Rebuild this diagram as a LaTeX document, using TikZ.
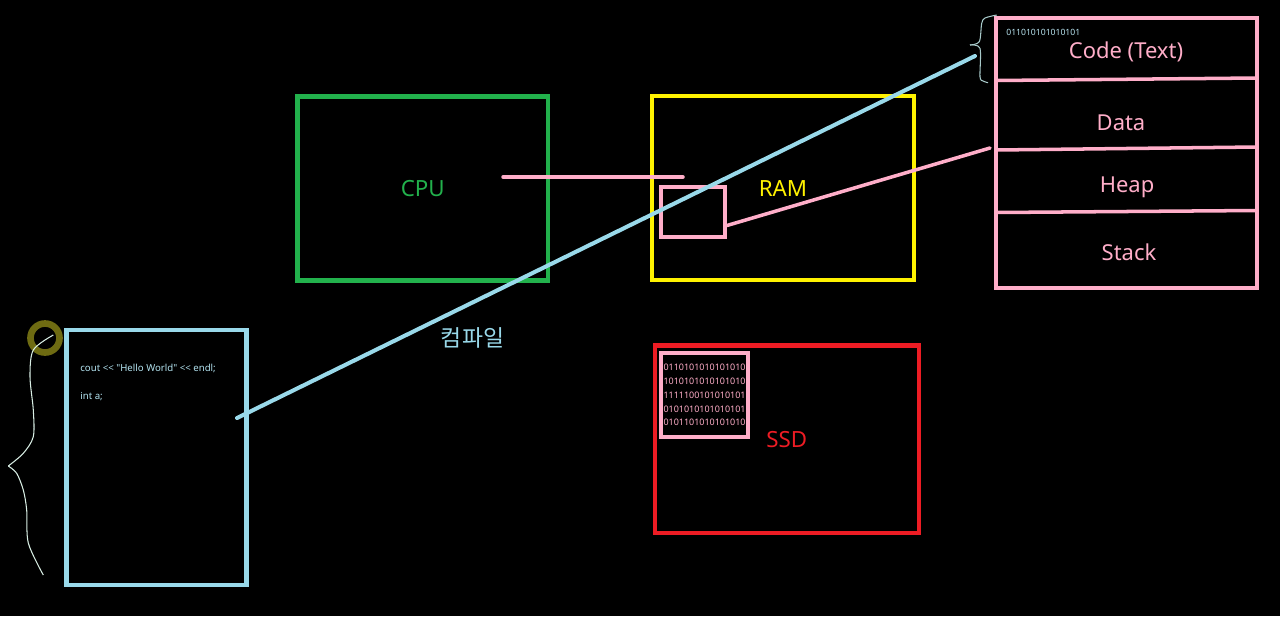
\documentclass[tikz,border=0pt]{standalone}
\usepackage{fontspec}
\setmainfont{Noto Sans}
\newfontfamily\srcfont{Noto Sans}
\newfontfamily\krfont{Noto Sans CJK KR}
\definecolor{grn}{HTML}{22B14C}
\definecolor{ylw}{HTML}{FFF200}
\definecolor{ssdred}{HTML}{ED1C24}
\definecolor{pnk}{HTML}{FFAEC9}
\definecolor{cyn}{HTML}{99D9EA}
\definecolor{olv}{HTML}{6E6B12}
\definecolor{chalk}{HTML}{D8EEE4}
\definecolor{bracegry}{HTML}{A8CACA}
\tikzset{
  box/.style={draw, line width=2.6pt, inner sep=0pt, font=\fontsize{12.7}{15}\selectfont},
  cpubox/.style={box, draw=grn, text=grn},
  rambox/.style={box, draw=ylw, text=ylw},
  ssdbox/.style={box, draw=ssdred, text=ssdred},
  memseg/.style={box, draw=pnk, line width=2.2pt},
  srcbox/.style={box, draw=cyn},
  lbl/.style={text=pnk, font=\fontsize{12.5}{15}\selectfont},
  bits/.style={text=pnk, font=\fontsize{5.1}{7.9}\selectfont, align=left},
  src/.style={text=cyn!75!white, inner sep=0pt, font=\srcfont\fontsize{5.5}{7}\selectfont},
  pl/.style={draw=pnk, line width=2pt, line cap=round},
  bl/.style={draw=cyn, line width=2.3pt, line cap=round},
  brace/.style={line width=0.6pt},
}

\begin{document}
\begin{tikzpicture}[x=0.02cm, y=-0.02cm]
  \fill[black] (0,0) rectangle (1280,616);
  \useasboundingbox (0,0) rectangle (1280,616);

  % hardware
  \node[cpubox, minimum width=5.01cm, minimum height=3.68cm] (cpu) at (422.75,188.5) {CPU};
  \node[rambox, minimum width=5.24cm, minimum height=3.68cm] (ram) at (783,188) {RAM};
  \node[ssdbox, minimum width=5.28cm, minimum height=3.76cm] (ssd) at (786.8,439.2) {SSD};
  \node[memseg, minimum width=1.28cm, minimum height=1cm] (cell) at (693,212) {};
  \node[memseg, bits, minimum width=1.74cm, minimum height=1.68cm] (exe) at (704.5,395)
    {0110101010101010\\1010101010101010\\1111100101010101\\0101010101010101\\0101101010101010};

  % memory layout
  \node[memseg, minimum width=5.22cm, minimum height=5.4cm] (mem) at (1126.5,153) {};
  \draw[pl] (996,80.5) -- (1257,78);
  \draw[pl] (996,150) -- (1257,147);
  \draw[pl] (996,212.5) -- (1257,210.5);
  \node[lbl] (code) at (1126,51.7) {Code (Text)};
  \node[lbl] (data) at (1121,123) {Data};
  \node[lbl] (heap) at (1127,187) {Heap};
  \node[lbl] (stack) at (1129,252) {Stack};
  \node[text=cyn!70!white, inner sep=0pt, font=\fontsize{4.9}{6}\selectfont, anchor=base west] (bin) at (1006,35) {011010101010101};
  \draw[brace, bracegry] plot[smooth] coordinates {(996.7,15) (985,18) (981.7,23.3) (979.3,41.7) (970,45)};
  \draw[brace, bracegry] plot[smooth] coordinates {(970,45) (980,48.3) (980,76.7) (983,81) (988,82.7)};

  % source file
  \node[srcbox, minimum width=3.6cm, minimum height=5.1cm] (file) at (156.5,457.5) {};
  \node[src, anchor=base west] (line1) at (80,371.7) {cout << "Hello World" << endl;};
  \node[src, anchor=base west] (line2) at (80,399.3) {int a;};
  \node[circle, draw=olv, line width=3.8pt, minimum size=0.58cm] (mark) at (45,338) {};
  \draw[brace, chalk] plot[smooth] coordinates {(53.3,335) (33.3,350) (30,376.7) (33.3,410) (33.3,436.7) (23.3,453.3) (8.3,466)};
  \draw[brace, chalk] plot[smooth] coordinates {(8.3,466) (16.7,473.3) (23.3,490) (26.7,510) (28.3,543) (43.3,575)};

  % wires
  \coordinate (bus) at (503,177);
  \coordinate (busend) at (683,177);
  \draw[pl] (bus) -- (busend);
  \coordinate (segin) at (990,148);
  \draw[pl] ([yshift=-0.27cm]cell.east) -- (segin);

  % compile
  \coordinate (objout) at (237,418);
  \coordinate (objin) at (975,56);
  \draw[bl] (objout) -- (objin);
  \node[text=cyn, font=\krfont\fontsize{13}{15}\selectfont] (cc) at (472.5,338) {컴파일};
\end{tikzpicture}
\end{document}
